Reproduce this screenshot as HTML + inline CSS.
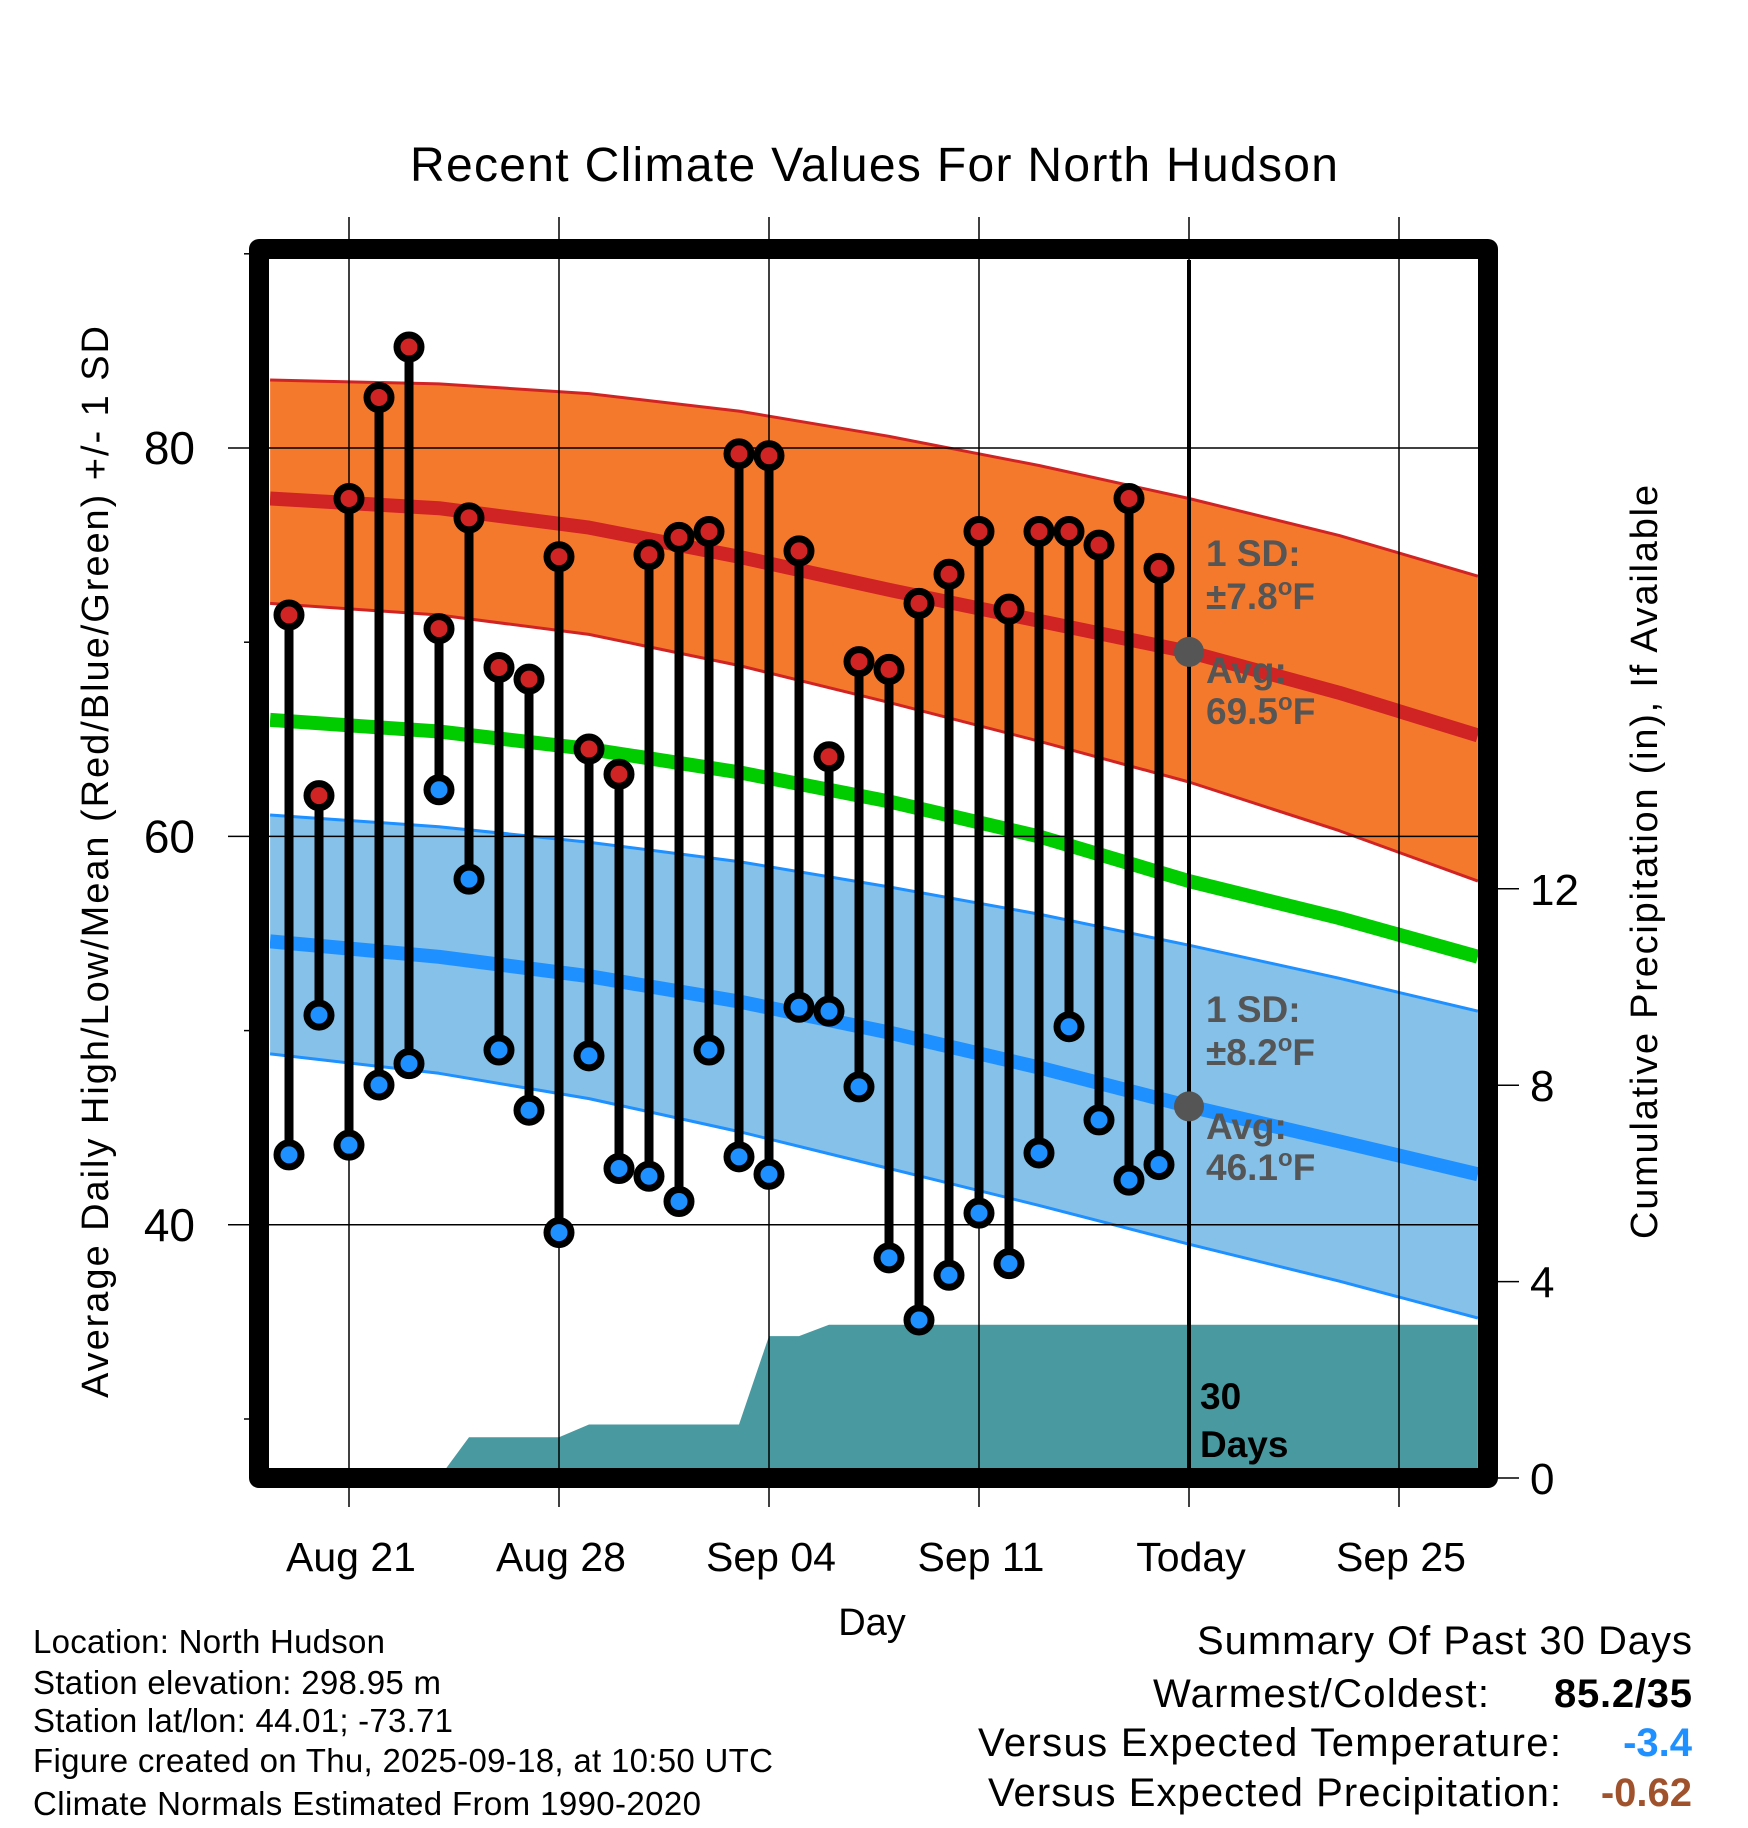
<!DOCTYPE html>
<html><head><meta charset="utf-8"><style>
html,body{margin:0;padding:0;background:#fff;}
svg{display:block;font-family:"Liberation Sans",Arial,sans-serif;}
</style></head><body>
<svg id="chart" width="1748" height="1828" viewBox="0 0 1748 1828" xmlns="http://www.w3.org/2000/svg">
<defs><clipPath id="plotclip"><rect x="270" y="260" width="1208" height="1208"/></clipPath></defs>
<text x="874" y="181" text-anchor="middle" font-size="48" textLength="928">Recent Climate Values For North Hudson</text>
<g id="bands" clip-path="url(#plotclip)"></g>
<g id="grid"></g>
<g id="marks" clip-path="url(#plotclip)"></g>
<g id="annot"></g>
<rect x="259" y="249" width="1229" height="1229" fill="none" stroke="#000" stroke-width="20" stroke-linejoin="round"/>
<g id="axes"></g>
<text transform="translate(108,862) rotate(-90)" text-anchor="middle" font-size="38" textLength="1072">Average Daily High/Low/Mean (Red/Blue/Green) +/- 1 SD</text>
<text transform="translate(1657,862) rotate(-90)" text-anchor="middle" font-size="38" textLength="754">Cumulative Precipitation (in), If Available</text>
<text x="872" y="1635" text-anchor="middle" font-size="38">Day</text>
<g font-size="33">
<text x="33" y="1653" textLength="352">Location: North Hudson</text>
<text x="33" y="1694" textLength="408">Station elevation: 298.95 m</text>
<text x="33" y="1732" textLength="420">Station lat/lon: 44.01; -73.71</text>
<text x="33" y="1772" textLength="740">Figure created on Thu, 2025-09-18, at 10:50 UTC</text>
<text x="33" y="1815" textLength="668">Climate Normals Estimated From 1990-2020</text>
</g>
<g font-size="40" text-anchor="end">
<text x="1692" y="1654" textLength="495">Summary Of Past 30 Days</text>
<text x="1489" y="1707" textLength="336">Warmest/Coldest:</text>
<text x="1692" y="1707" font-weight="bold" textLength="138">85.2/35</text>
<text x="1561" y="1756" textLength="583">Versus Expected Temperature:</text>
<text x="1692" y="1756" font-weight="bold" fill="#1E90FF">-3.4</text>
<text x="1561" y="1806" textLength="573">Versus Expected Precipitation:</text>
<text x="1692" y="1806" font-weight="bold" fill="#A0522D">-0.62</text>
</g>
</svg>
<script>
// Data (day index: 0 = Aug 19)
const highs=[71.4,62.1,77.4,82.6,85.2,70.7,76.4,68.7,68.1,74.4,64.5,63.2,74.5,75.4,75.7,79.7,79.6,74.7,64.1,69.0,68.6,72.0,73.5,75.7,71.7,75.7,75.7,75.0,77.4,73.8];
const lows=[43.6,50.8,44.1,47.2,48.3,62.4,57.8,49.0,45.9,39.6,48.7,42.9,42.5,41.2,49.0,43.5,42.6,51.2,51.0,47.1,38.3,35.1,37.4,40.6,38.0,43.7,50.2,45.4,42.3,43.1];
const precip=[0,0,0,0,0,0,0.83,0.83,0.83,0.83,1.09,1.09,1.09,1.09,1.09,1.09,2.89,2.89,3.12,3.12,3.12,3.12,3.12,3.12,3.12,3.12,3.12,3.12,3.12,3.12];
const normDays=[-0.63,5,10,15,20,25,30,35,39.63];
const normHigh=[77.4,76.9,75.9,74.4,72.7,71.1,69.5,67.4,65.2];
const normHighUp=[83.5,83.3,82.8,81.9,80.6,79.1,77.4,75.5,73.4];
const normHighLo=[72.0,71.4,70.4,68.8,66.9,64.9,62.8,60.3,57.7];
const normMean=[66.0,65.4,64.5,63.3,61.8,60.0,57.7,55.8,53.8];
const normLow=[54.6,53.8,52.8,51.5,49.9,48.1,46.1,44.3,42.6];
const normLowUp=[61.1,60.5,59.7,58.7,57.4,56.0,54.4,52.7,51.0];
const normLowLo=[48.8,47.8,46.5,44.8,42.9,41.0,39.0,37.1,35.2];
const xTickDays=[2,9,16,23,30,37];
const xTickLabels=["Aug 21","Aug 28","Sep 04","Sep 11","Today","Sep 25"];
const yTicks=[40,60,80];
const yMinor=[30,50,70,90];
const y2Ticks=[0,4,8,12];

const NS="http://www.w3.org/2000/svg";
const X=d=>289+30*d;
const Y=t=>448+(80-t)*19.42;
const Y2=p=>1478-p*49.1;
function el(tag,attrs,parent,txt){const e=document.createElementNS(NS,tag);for(const k in attrs)e.setAttribute(k,attrs[k]);if(txt!==undefined)e.textContent=txt;parent.appendChild(e);return e;}
const bands=document.getElementById('bands'),grid=document.getElementById('grid'),marks=document.getElementById('marks'),axes=document.getElementById('axes'),annot=document.getElementById('annot');
const pts=arr=>normDays.map((d,i)=>X(d).toFixed(1)+','+Y(arr[i]).toFixed(1));
function band(up,lo,fill,edge,name){
  const p=pts(up).concat(pts(lo).reverse());
  const b=el('polygon',{points:p.join(' '),fill:fill},bands);
  
  
  const e1=el('polyline',{points:pts(up).join(' '),fill:'none',stroke:edge,'stroke-width':3,'stroke-linejoin':'round'},bands);
  
  
  const e2=el('polyline',{points:pts(lo).join(' '),fill:'none',stroke:edge,'stroke-width':3,'stroke-linejoin':'round'},bands);
  
  
}
band(normHighUp,normHighLo,'#F5792C','#D02424','high-sd-band');
band(normLowUp,normLowLo,'#85C1E9','#1E90FF','low-sd-band');
function line(arr,col,name){const l=el('polyline',{points:pts(arr).join(' '),fill:'none',stroke:col,'stroke-width':14,'stroke-linejoin':'round'},bands);
  
  }
line(normHigh,'#D02424','normal-high-line');
line(normMean,'#00CC00','normal-mean-line');
line(normLow,'#1E90FF','normal-low-line');
// precipitation area
let pp=[X(-0.63)+','+1478];
precip.forEach((p,i)=>pp.push(X(i)+','+Y2(p).toFixed(1)));
pp.push(X(39.63)+','+Y2(precip[precip.length-1]).toFixed(1));
pp.push(X(39.63)+','+1478);
const pa=el('polygon',{points:pp.join(' '),fill:'#4899A0'},bands);


// grid
xTickDays.forEach((d,i)=>{
  const g=el('line',{x1:X(d),x2:X(d),y1:217,y2:1507,stroke:'#000','stroke-width':1.5},grid);
  
  
  const t=el('text',{x:X(d)+2,y:1571,'text-anchor':'middle','font-size':41},axes,xTickLabels[i]);
  
  
});
yTicks.forEach(v=>{
  const g=el('line',{x1:228,x2:1478,y1:Y(v),y2:Y(v),stroke:'#000','stroke-width':1.5},grid);
  
  
  const t=el('text',{x:195,y:Y(v)+16,'text-anchor':'end','font-size':46},axes,String(v));
  
  
});
yMinor.forEach(v=>{
  const g=el('line',{x1:244,x2:260,y1:Y(v),y2:Y(v),stroke:'#000','stroke-width':1.5},grid);
  
  
});
y2Ticks.forEach(v=>{
  const g=el('line',{x1:1488,x2:1519,y1:Y2(v),y2:Y2(v),stroke:'#000','stroke-width':1.5},axes);
  
  
  const t=el('text',{x:1530,y:Y2(v)+16,'font-size':44},axes,String(v));
  
  
});
// today line
const tl=el('line',{x1:X(30),x2:X(30),y1:260,y2:1468,stroke:'#000','stroke-width':4},marks);


// stems & markers
highs.forEach((h,i)=>{
  const s=el('line',{x1:X(i),x2:X(i),y1:Y(h),y2:Y(lows[i]),stroke:'#000','stroke-width':9},marks);
  
  
});
highs.forEach((h,i)=>{
  const c=el('circle',{cx:X(i),cy:Y(h),r:12,fill:'#D02424',stroke:'#000','stroke-width':7},marks);
  
  
  const c2=el('circle',{cx:X(i),cy:Y(lows[i]),r:12,fill:'#1E90FF',stroke:'#000','stroke-width':7},marks);
  
  
});
// today average dots
[normHigh[6],normLow[6]].forEach(v=>{
  const c=el('circle',{cx:X(30),cy:Y(v),r:15,fill:'#555'},annot);
  
  
});
function lab(x,y,html,col,name){const t=el('text',{x:x,y:y,'font-size':37,'font-weight':'bold',fill:col},annot);t.innerHTML=html;
  
  }
const sup='<tspan dy="-14" font-size="24">o</tspan><tspan dy="14">F</tspan>';
lab(1206,566,'1 SD:','#555','high-sd-label');
lab(1206,609,'±7.8'+sup,'#555','high-sd-value');
lab(1206,683,'Avg:','#555','high-avg-label');
lab(1206,724,'69.5'+sup,'#555','high-avg-value');
lab(1206,1022,'1 SD:','#555','low-sd-label');
lab(1206,1065,'±8.2'+sup,'#555','low-sd-value');
lab(1206,1139,'Avg:','#555','low-avg-label');
lab(1206,1180,'46.1'+sup,'#555','low-avg-value');
lab(1200,1409,'30','#000','days-count');
lab(1200,1457,'Days','#000','days-label');
</script>
</body></html>
